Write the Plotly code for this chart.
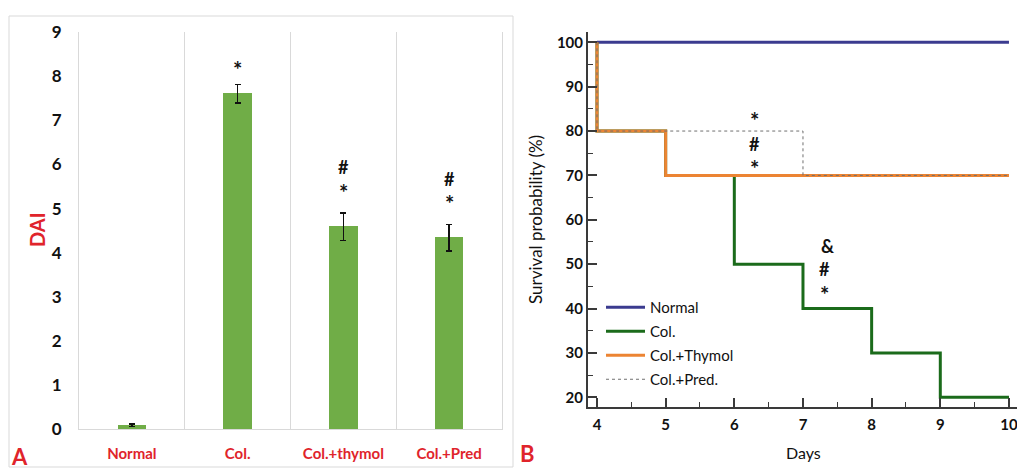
import plotly.graph_objects as go

W, H = 1017, 469

# ---------------- Panel A data ----------------
groups = ["Normal", "Col.", "Col.+thymol", "Col.+Pred"]
dai_mean = [0.09, 7.61, 4.59, 4.34]
dai_err = [0.03, 0.21, 0.31, 0.30]
dai_yticks = [0, 1, 2, 3, 4, 5, 6, 7, 8, 9]
# significance symbols above bars: (group, symbol, DAI level of symbol)
dai_marks = [("Col.", "*", 8.28),
             ("Col.+thymol", "#", 5.95), ("Col.+thymol", "*", 5.48),
             ("Col.+Pred", "#", 5.67), ("Col.+Pred", "*", 5.22)]

# ---------------- Panel B data ----------------
days_normal = [4, 10]
surv_normal = [100, 100]
days_col = [4, 4, 5, 6, 7, 8, 9, 10]
surv_col = [100, 80, 70, 50, 40, 30, 20, 20]
days_thymol = [4, 4, 5, 10]
surv_thymol = [100, 80, 70, 70]
days_pred = [4, 4, 7, 10]
surv_pred = [100, 80, 70, 70]
surv_marks = [(6.29, "*", 83.6), (6.29, "#", 77.1), (6.29, "*", 72.6),
              (7.35, "&amp;", 54.1), (7.31, "#", 48.9), (7.31, "*", 44.4)]

def px(xp):
    return xp / W

def py(yp):
    return 1 - yp / H

FONT = "Lato"
RED = "#E0242B"
INK = "#111111"

fig = go.Figure()

# Panel A bars
fig.add_trace(go.Bar(
    x=groups, y=dai_mean, width=0.27,
    marker=dict(color="#70AD47", line=dict(width=0)),
    error_y=dict(type="data", array=dai_err, color=INK, thickness=1.6, width=3),
    xaxis="x", yaxis="y", showlegend=False, hoverinfo="skip",
))

# Panel B lines
specs = [
    (days_normal, surv_normal, "Normal", dict(color="#3B3B8F", width=3)),
    (days_col, surv_col, "Col.", dict(color="#1B6B1B", width=3)),
    (days_thymol, surv_thymol, "Col.+Thymol", dict(color="#EC8433", width=3)),
    (days_pred, surv_pred, "Col.+Pred.", dict(color="#707070", width=1, dash="dot")),
]
for xs, ys, nm, ln in specs:
    fig.add_trace(go.Scatter(x=xs, y=ys, mode="lines", name=nm, legendgroup=nm,
                             line=dict(shape="hv", **ln), xaxis="x2", yaxis="y2"))

annotations = []

def ann(**kw):
    base = dict(showarrow=False, xanchor="center", yanchor="middle", align="center")
    base.update(kw)
    annotations.append(base)

def mark(x, sym, y, xref, yref):
    star = sym == "*"
    ann(x=x, y=y, xref=xref, yref=yref, text="<b>" + sym + "</b>",
        yshift=-5 if star else 0,
        font=dict(family=FONT, size=22 if star else 18, color=INK))

for g, s, yv in dai_marks:
    mark(g, s, yv, "x", "y")
for xv, s, yv in surv_marks:
    mark(xv, s, yv, "x2", "y2")

# Panel A titles
ann(x=px(37), y=py(230), xref="paper", yref="paper", text="<b>DAI</b>",
    textangle=-90, font=dict(family=FONT, size=20, color=RED))
ann(x=px(19), y=py(456), xref="paper", yref="paper", text="<b>A</b>",
    font=dict(family=FONT, size=22, color=RED))
ann(x=px(527), y=py(453), xref="paper", yref="paper", text="<b>B</b>",
    font=dict(family=FONT, size=22, color=RED))
# Panel B titles
ann(x=px(535), y=py(220), xref="paper", yref="paper", text="Survival probability (%)",
    textangle=-90, font=dict(family=FONT, size=17, color=INK))
ann(x=px(803), y=py(452), xref="paper", yref="paper", text="Days",
    font=dict(family=FONT, size=16, color=INK))

shapes = [
    dict(type="rect", xref="paper", yref="paper", x0=px(9), x1=px(513), y0=py(467), y1=py(16),
         line=dict(color="#D9D9D9", width=1), fillcolor="rgba(0,0,0,0)", layer="below"),
]

fig.update_layout(
    width=W, height=H,
    margin=dict(l=0, r=0, t=0, b=0, autoexpand=False),
    paper_bgcolor="white", plot_bgcolor="rgba(0,0,0,0)",
    font=dict(family=FONT, color=INK),
    annotations=annotations,
    shapes=shapes,
    bargap=0,
    xaxis=dict(
        domain=[px(79), px(502)], anchor="y", type="category", range=[-0.5, 3.5],
        tickson="boundaries", showgrid=True, gridcolor="#D9D9D9", gridwidth=1,
        showline=True, linecolor="#D9D9D9", linewidth=1,
        ticks="outside", ticklen=12, tickcolor="rgba(0,0,0,0)",
        ticklabelstandoff=11,
        tickfont=dict(family=FONT, size=15, color=RED, weight="bold"),
        zeroline=False, automargin=False,
    ),
    yaxis=dict(
        domain=[py(429), py(32.3)], anchor="x", range=[0, 9],
        tickvals=dai_yticks, showgrid=False, zeroline=False,
        showline=True, linecolor="#D9D9D9", linewidth=1, mirror=True,
        ticks="outside", ticklen=13, tickcolor="rgba(0,0,0,0)",
        tickfont=dict(family=FONT, size=17, color=INK, weight="bold"),
        automargin=False,
    ),
    xaxis2=dict(
        domain=[px(588), 1.0], anchor="y2", range=[3.869, 10.117],
        tick0=4, dtick=1, showgrid=False, zeroline=False,
        showline=True, linecolor="#3A3A3A", linewidth=2,
        ticks="inside", ticklen=9, tickwidth=1.5, tickcolor="#3A3A3A",
        minor=dict(dtick=0.5, tick0=4, ticks="inside", ticklen=5, tickwidth=1, tickcolor="#3A3A3A"),
        ticklabelstandoff=3, ticklabeloverflow="allow",
        tickfont=dict(family=FONT, size=15, color=INK, weight="bold"),
        automargin=False,
    ),
    yaxis2=dict(
        domain=[py(407.3), py(32.3)], anchor="x2", range=[17.75, 102.25],
        tick0=0, dtick=10, showgrid=False, zeroline=False,
        showline=True, linecolor="#3A3A3A", linewidth=2,
        ticks="inside", ticklen=9, tickwidth=1.5, tickcolor="#3A3A3A",
        minor=dict(dtick=5, tick0=0, ticks="inside", ticklen=5, tickwidth=1, tickcolor="#3A3A3A"),
        tickfont=dict(family=FONT, size=15, color=INK, weight="bold"),
        automargin=False,
    ),
    legend=dict(
        x=px(601), y=py(291), xanchor="left", yanchor="top",
        bgcolor="rgba(0,0,0,0)", borderwidth=0,
        font=dict(family=FONT, size=15, color=INK),
        itemwidth=39, tracegroupgap=1.5,
    ),
)

fig.write_html(
    "out.html",
    config={"displayModeBar": False},
    post_script="document.body.style.margin='0';document.body.style.overflow='hidden';",
)
